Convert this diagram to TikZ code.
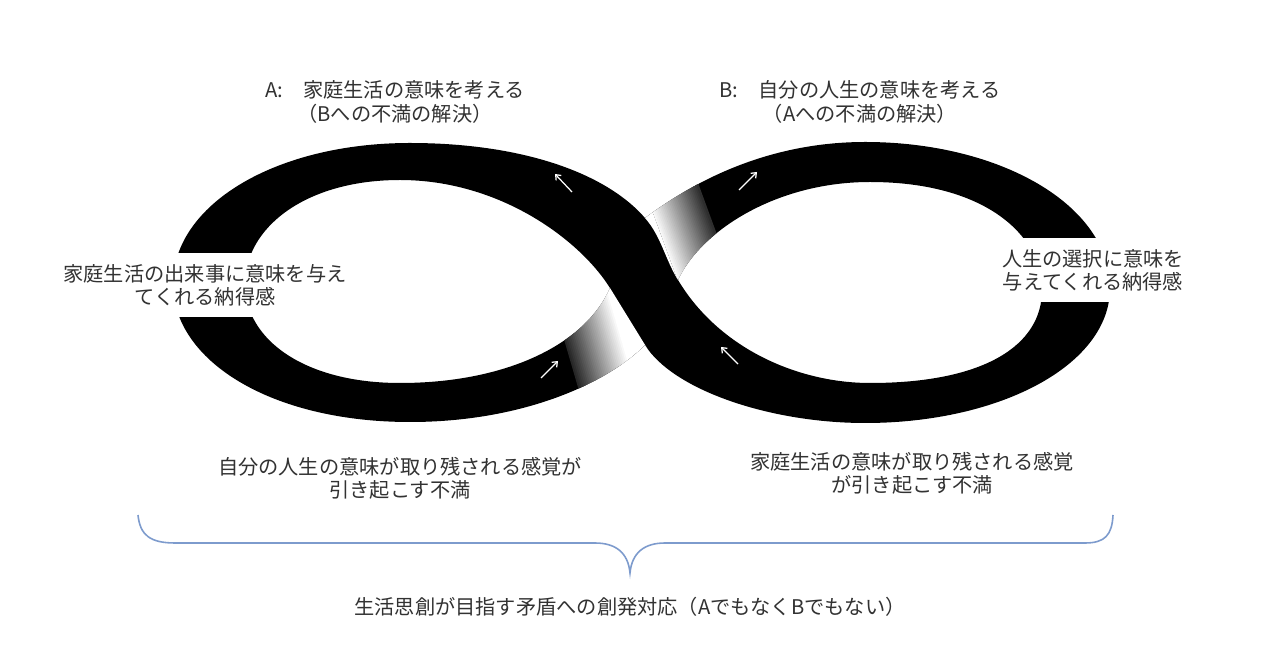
\documentclass[tikz,border=0pt]{standalone}
\usepackage{fontspec}
\newfontfamily\cjk{Noto Sans CJK JP}
\usetikzlibrary{arrows.meta}
\definecolor{bracecol}{RGB}{125,155,205}
\definecolor{txtcol}{RGB}{50,50,50}
\def\infbandpath{(645,218) .. controls (685,188) and (760,142) .. (865,142)
 .. controls (1000,142) and (1110,205) .. (1110,288)
 .. controls (1110,365) and (1000,423) .. (865,423)
 .. controls (770,423) and (673,390) .. (645,345)
 .. controls (605,385) and (520,422) .. (410,422)
 .. controls (270,422) and (173,360) .. (173,284)
 .. controls (173,205) and (275,143) .. (410,143)
 .. controls (520,143) and (605,172) .. (645,218) -- cycle
 (610,288) .. controls (580,240) and (500,180) .. (400,180)
 .. controls (305,180) and (245,228) .. (245,284)
 .. controls (245,340) and (305,383) .. (400,383)
 .. controls (505,383) and (585,345) .. (610,288) -- cycle
 (678,280) .. controls (700,232) and (775,182) .. (870,182)
 .. controls (985,182) and (1042,235) .. (1042,290)
 .. controls (1042,345) and (985,383) .. (870,383)
 .. controls (800,383) and (720,350) .. (678,280) -- cycle}
\tikzset{
  lbl/.style={font=\cjk\fontsize{11.5pt}{13.2pt}\selectfont, text=txtcol, align=center, inner sep=0pt},
  flowarrow/.style={draw=white, line width=0.7pt, -{Straight Barb[length=2.5pt,width=4pt]}},
  bracestyle/.style={draw=bracecol, line width=0.9pt}
}
\begin{document}
\begin{tikzpicture}[x=0.02cm,y=-0.02cm]
\fill[white] (0,0) rectangle (1280,671);
\useasboundingbox (0,0) rectangle (1280,671);
% band
\fill[black, even odd rule] \infbandpath;
% lower-left fading of the under strand
\begin{scope}[even odd rule]
  \clip \infbandpath;
  \clip (470,288) -- (610,288) -- (698,431) -- (470,431) -- cycle;
  \foreach \i in {0,...,29} {
    \pgfmathsetmacro\c{85*(1-\i/30)}
    \pgfmathsetmacro\ua{570+\i*1.9}
    \pgfmathsetmacro\ub{\ua+2.5}
    \fill[black!\c] (\ua-35,240) -- (\ub-35,240) -- (\ub+35,480) -- (\ua+35,480) -- cycle;
  }
  \fill[white] (627-35,240) -- (800,240) -- (800,480) -- (627+35,480) -- cycle;
\end{scope}
% upper-right fading of the under strand
\begin{scope}[even odd rule]
  \clip \infbandpath;
  \clip (582,100) -- (645,218) .. controls (661,236) and (665,259) .. (678,280) -- (830,280) -- (830,100) -- cycle;
  \fill[white] (400,85) -- (650-44,85) -- (650+44,325) -- (400,325) -- cycle;
  \foreach \i in {0,...,29} {
    \pgfmathsetmacro\c{82*(\i+1)/30}
    \pgfmathsetmacro\ua{650+\i*1.85}
    \pgfmathsetmacro\ub{\ua+2.5}
    \fill[black!\c] (\ua-44,85) -- (\ub-44,85) -- (\ub+44,325) -- (\ua+44,325) -- cycle;
  }
\end{scope}
% arrows on the band
\coordinate (a1t) at (572,192); \coordinate (a1h) at (555,174);
\coordinate (a2t) at (739,190); \coordinate (a2h) at (757,172);
\coordinate (a3t) at (541,378); \coordinate (a3h) at (558,361);
\coordinate (a4t) at (738,364); \coordinate (a4h) at (721,347);
\draw[flowarrow] (a1t) -- (a1h);
\draw[flowarrow] (a2t) -- (a2h);
\draw[flowarrow] (a3t) -- (a3h);
\draw[flowarrow] (a4t) -- (a4h);
% labels
\node[lbl] (topA) at (395,102) {A:　家庭生活の意味を考える\\（Bへの不満の解決）};
\node[lbl] (topB) at (860,102) {B:　自分の人生の意味を考える\\（Aへの不満の解決）};
\node[lbl, fill=white, minimum width=305*0.569pt, minimum height=64*0.569pt] (leftL) at (205,285) {家庭生活の出来事に意味を与え\\てくれる納得感};
\node[lbl, fill=white, minimum width=200*0.569pt, minimum height=64*0.569pt] (rightL) at (1093,270) {人生の選択に意味を\\与えてくれる納得感};
\node[lbl] (botL) at (400,478) {自分の人生の意味が取り残される感覚が\\引き起こす不満};
\node[lbl] (botR) at (912,473) {家庭生活の意味が取り残される感覚\\が引き起こす不満};
\node[lbl] (bottom) at (630,607) {生活思創が目指す矛盾への創発対応（AでもなくBでもない）};
% brace
\coordinate (bl) at (138,515);
\coordinate (br) at (1113,515);
\coordinate (bt) at (630,573);
\draw[bracestyle] (bl) .. controls (140,535) and (150,543) .. (175,543) -- (595,543)
  .. controls (615,543) and (628,552) .. (bt)
  .. controls (632,552) and (645,543) .. (665,543) -- (1085,543)
  .. controls (1105,543) and (1112,535) .. (br);
\end{tikzpicture}
\end{document}
